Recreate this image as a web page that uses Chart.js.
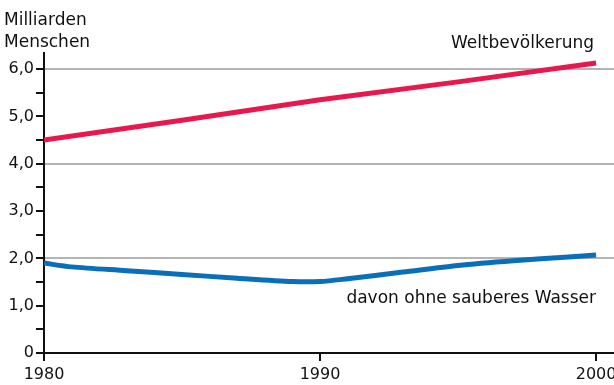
<!DOCTYPE html>
<html>
<head>
<meta charset="utf-8">
<script src="https://cdn.jsdelivr.net/npm/chart.js@4/dist/chart.umd.min.js"></script>
<style>
  html, body { margin: 0; padding: 0; background: #fff; }
  #wrap { width: 614px; height: 385px; }
</style>
</head>
<body>
<div id="wrap"><canvas id="myChart"></canvas></div>
<script>
// values (Milliarden Menschen)
var worldYears = [1980, 1985, 1990, 1995, 2000];
var worldPop = [4.50, 4.92, 5.35, 5.73, 6.13];

var waterYears = [1980, 1981, 1983, 1985, 1987, 1989, 1990, 1991, 1993, 1995, 1997, 1999, 2000];
var noWater = [1.90, 1.82, 1.74, 1.66, 1.58, 1.51, 1.51, 1.57, 1.71, 1.85, 1.95, 2.03, 2.07];

var yTicks = [0, 1, 2, 3, 4, 5, 6];
var gridValues = [2, 4, 6];

var seriesLabels = ['Weltbevölkerung', 'davon ohne sauberes Wasser'];
var unitLines = ['Milliarden', 'Menschen'];

function toPoints(xs, ys) {
  return xs.map(function (x, i) { return { x: x, y: ys[i] }; });
}

var FONT = '"DejaVu Sans", sans-serif';

// labels drawn straight onto the canvas
var textPlugin = {
  id: 'labels',
  afterDraw: function (chart) {
    var c = chart.ctx;
    c.save();
    c.fillStyle = '#111';
    c.font = '17px ' + FONT;
    c.textBaseline = 'alphabetic';
    c.textAlign = 'left';
    c.fillText(unitLines[0], 4, 25);
    c.fillText(unitLines[1], 4, 47);
    c.textAlign = 'right';
    c.fillText(seriesLabels[0], 594, 48);
    c.fillText(seriesLabels[1], 596, 303);
    c.restore();
  }
};

var ctx = document.getElementById('myChart').getContext('2d');
var chart = new Chart(ctx, {
  type: 'line',
  data: {
    datasets: [{
      label: seriesLabels[0],
      data: toPoints(worldYears, worldPop),
      borderColor: '#e8184c',
      borderWidth: 5,
      pointRadius: 0,
      tension: 0
    }, {
      label: seriesLabels[1],
      data: toPoints(waterYears, noWater),
      borderColor: '#0a6fb8',
      borderWidth: 5,
      pointRadius: 0,
      tension: 0.3
    }]
  },
  options: {
    responsive: true,
    maintainAspectRatio: false,
    animation: false,
    layout: { padding: { top: 53, left: 0, right: 0, bottom: 0 } },
    plugins: {
      legend: { display: false },
      tooltip: { enabled: false }
    },
    scales: {
      x: {
        type: 'linear',
        min: 1980,
        max: 2000.65,
        afterFit: function (s) {
          s.height = 32;
          s.paddingLeft = 0;
          s.paddingRight = 0;
        },
        border: { color: '#111', width: 2 },
        grid: { drawOnChartArea: false, tickLength: 8, color: '#111', lineWidth: 2 },
        ticks: {
          stepSize: 10,
          includeBounds: false,
          maxRotation: 0,
          padding: 4,
          color: '#111',
          font: { family: FONT, size: 16 },
          callback: function (v) { return String(v); }
        }
      },
      y: {
        min: 0,
        max: 6.34,
        afterFit: function (s) {
          s.width = 44;
          s.paddingTop = 0;
          s.paddingBottom = 0;
        },
        border: { color: '#111', width: 2 },
        grid: {
          tickLength: 8,
          lineWidth: 2,
          tickColor: '#111',
          tickWidth: 2,
          color: function (c) {
            return c.tick && gridValues.indexOf(c.tick.value) >= 0 ? '#b4b4b4' : 'rgba(0,0,0,0)';
          }
        },
        ticks: {
          stepSize: 0.5,
          includeBounds: false,
          padding: 2,
          color: '#111',
          font: { family: FONT, size: 16 },
          callback: function (v) {
            if (yTicks.indexOf(v) < 0) return '';
            return v === 0 ? '0' : v.toFixed(1).replace('.', ',');
          }
        }
      }
    }
  },
  plugins: [textPlugin]
});
</script>
</body>
</html>
